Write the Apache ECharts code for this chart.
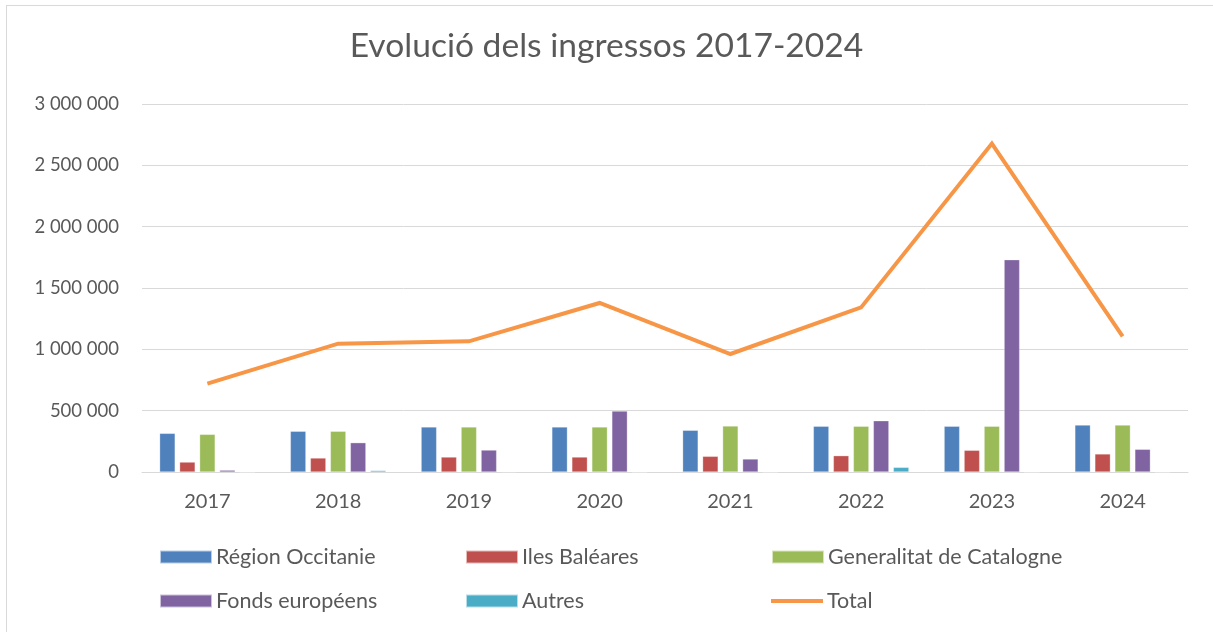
<!DOCTYPE html>
<html>
<head>
<meta charset="utf-8">
<script src="https://cdn.jsdelivr.net/npm/echarts@6/dist/echarts.min.js"></script>
<style>
  html, body { margin: 0; padding: 0; background: #fff; overflow: hidden; }
  #frame { position: absolute; left: 6px; top: 5px; width: 1230px; height: 650px; border: 1px solid #d9d9d9; }
  #main { position: absolute; left: 0; top: 0; width: 1213px; height: 632px; }
</style>
</head>
<body>
<div id="frame"></div>
<div id="main"></div>
<script>
// years on the x axis
var years = ['2017', '2018', '2019', '2020', '2021', '2022', '2023', '2024'];

// incomes per source
var occitanie = [315000, 332000, 367000, 367000, 340000, 373000, 373000, 383000];
var baleares  = [81000, 114000, 122000, 122000, 128000, 133000, 177000, 147000];
var catalogne = [307000, 332000, 367000, 367000, 375000, 373000, 373000, 383000];
var europe    = [15000, 239000, 179000, 497000, 106000, 418000, 1731000, 185000];
var autres    = [0, 12000, 3000, 0, 0, 38000, 0, 0];
var total     = [720000, 1046000, 1065000, 1378000, 962000, 1342000, 2677000, 1106000];

var FONT = 'Lato';
var GREY = '#595959';

function spaced(v) {
    return String(v).replace(/\B(?=(\d{3})+(?!\d))/g, ' ');
}

function bar(name, data, color) {
    return {
        name: name,
        type: 'bar',
        data: data,
        barWidth: 15.5,
        barGap: '29%',
        itemStyle: { color: color, borderColor: 'rgba(255,255,255,0.6)', borderWidth: 0.5 }
    };
}

// one legend per entry so the columns line up like the original
function legendAt(name, left, top, isLine) {
    return {
        data: [{ name: name, icon: 'rect' }],
        left: left,
        top: top,
        padding: 0,
        itemWidth: 52,
        itemHeight: isLine ? 4 : 13,
        itemGap: 0,
        selectedMode: false,
        textStyle: { fontFamily: FONT, fontSize: 21.5, color: GREY, lineHeight: 22, padding: [0, 0, 0, -1] }
    };
}

var chart = echarts.init(document.getElementById('main'));

chart.setOption({
    animation: false,
    title: {
        text: 'Evolució dels ingressos 2017-2024',
        left: 'center',
        top: 29,
        padding: 0,
        textStyle: { fontFamily: FONT, fontSize: 33.6, fontWeight: 'normal', color: GREY }
    },
    legend: [
        legendAt('Région Occitanie', 159, 546),
        legendAt('Iles Baléares', 465, 546),
        legendAt('Generalitat de Catalogne', 771, 546),
        legendAt('Fonds européens', 159, 590),
        legendAt('Autres', 465, 590),
        legendAt('Total', 771, 590, true)
    ],
    grid: { left: 142, right: 25, top: 104, bottom: 160, containLabel: false },
    xAxis: {
        type: 'category',
        data: years,
        boundaryGap: true,
        axisLine: { lineStyle: { color: '#d9d9d9', width: 1 } },
        axisTick: { show: false },
        axisLabel: { fontFamily: FONT, fontSize: 20, color: GREY, margin: 20 }
    },
    yAxis: {
        type: 'value',
        min: 0,
        max: 3000000,
        interval: 500000,
        axisLine: { show: false },
        axisTick: { show: false },
        splitLine: { lineStyle: { color: '#d9d9d9', width: 1 } },
        axisLabel: { fontFamily: FONT, fontSize: 18.5, color: GREY, margin: 23, formatter: spaced }
    },
    series: [
        bar('Région Occitanie', occitanie, '#4F81BD'),
        bar('Iles Baléares', baleares, '#C0504D'),
        bar('Generalitat de Catalogne', catalogne, '#9BBB59'),
        bar('Fonds européens', europe, '#8064A2'),
        bar('Autres', autres, '#4BACC6'),
        {
            name: 'Total',
            type: 'line',
            data: total,
            showSymbol: false,
            symbol: 'none',
            itemStyle: { color: '#F79646' },
            lineStyle: { color: '#F79646', width: 4, join: 'miter' },
            z: 5
        }
    ]
});
</script>
</body>
</html>
